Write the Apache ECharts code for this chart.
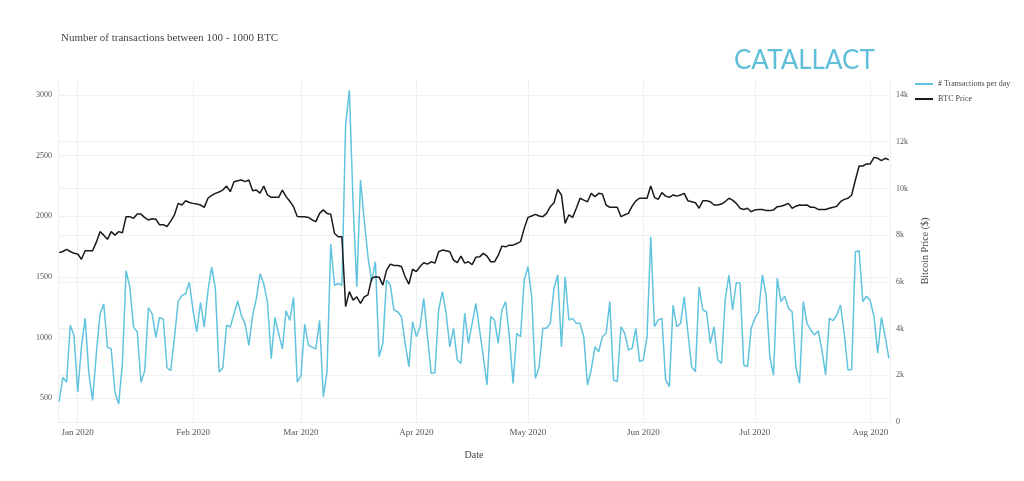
<!DOCTYPE html>
<html>
<head>
<meta charset="utf-8">
<script src="https://cdn.jsdelivr.net/npm/echarts@6/dist/echarts.min.js"></script>
<style>
  html, body { margin: 0; padding: 0; background: #fff; }
  #chart { width: 1024px; height: 481px; }
</style>
</head>
<body>
<div id="chart"></div>
<script>
// 第一天的日期，之后每天一个点
const startDate = '2019-12-27';

// 每日交易数 (100 - 1000 BTC)
const transactions = [
  470, 670, 630, 1100, 1015, 550, 920, 1160, 700, 480,
  865, 1195, 1275, 920, 905, 550, 450, 780, 1550, 1415,
  1085, 1045, 630, 725, 1245, 1195, 1000, 1165, 1150, 750,
  725, 1000, 1300, 1345, 1360, 1455, 1220, 1045, 1290, 1085,
  1385, 1580, 1400, 715, 750, 1100, 1085, 1195, 1300, 1180,
  1110, 935, 1180, 1320, 1525, 1440, 1290, 825, 1165, 1030,
  905, 1220, 1140, 1330, 630, 685, 1110, 935, 920, 905,
  1140, 510, 715, 1770, 1430, 1445, 1430,
  2752, 3041, 2106, 1418, 2299, 1969, 1666, 1460, 1625, 841,
  951, 1474, 1432, 1226, 1212, 1171, 951, 758, 1130, 1006,
  1088, 1322, 1006, 704, 708, 1226, 1377, 1199, 923, 1075,
  814, 786, 1199, 951, 1116, 1281, 1061, 841, 607, 1171,
  1144, 951, 1226, 1295, 1006, 621, 1034, 1006, 1474, 1583,
  1336, 663, 758, 1075, 1075, 1116, 1405, 1515, 923, 1501,
  1144, 1157, 1116,
  1116, 1006, 607, 731, 923, 882, 1006, 1034, 1295, 649,
  635, 1088, 1034, 896, 910, 1075, 800, 814, 1006, 1830,
  1088, 1144, 1157, 649, 594, 1267, 1088, 1116, 1336, 1034,
  758, 717, 1418, 1226, 1212, 951, 1088, 814, 786, 1309,
  1515, 1226, 1453, 1446, 772, 758, 1075, 1157, 1212, 1515,
  1350, 841, 690, 1487, 1295, 1340, 1240, 1212, 758, 621,
  1295, 1116, 1061, 1020, 1055, 896, 690, 1157, 1138, 1185,
  1267, 1034, 731, 736, 1707, 1715, 1295, 1340, 1302, 1171,
  869, 1165, 1006, 827
];

// BTC 价格 (美元)
const btcPrice = [
  7250, 7300, 7390, 7300, 7220, 7190, 6970, 7330, 7330, 7330,
  7700, 8150, 8000, 7820, 8150, 8000, 8150, 8100, 8790, 8790,
  8720, 8900, 8900, 8750, 8650, 8700, 8680, 8440, 8450, 8370,
  8600, 8870, 9360, 9290, 9470, 9400, 9360, 9330, 9290, 9190,
  9580, 9700, 9790, 9850, 9930, 10100, 9860, 10290, 10330, 10360,
  10290, 10360, 9900, 9930, 9800, 10100, 9720, 9620, 9620, 9620,
  9930, 9650, 9450, 9220, 8800, 8790, 8790, 8760, 8650, 8580,
  8930, 9080, 8930, 8900, 8080, 7930, 7930,
  4940, 5580, 5220, 5360, 5080, 5360, 5440, 6150, 6220, 6200,
  5860, 6500, 6760, 6700, 6700, 6660, 6220, 5900, 6540, 6440,
  6660, 6820, 6760, 6860, 6800, 7290, 7360, 7330, 7290, 6930,
  6820, 7100, 6800, 6860, 6740, 7050, 7070, 7220, 7100, 6860,
  6860, 7130, 7530, 7500, 7570, 7570, 7640, 7720, 8290, 8760,
  8820, 8890, 8820, 8790, 8930, 9220, 9390, 9960, 9720, 8500,
  8870, 8760, 9150,
  9580, 9500, 9430, 9790, 9650, 9790, 9760, 9290, 9190, 9190,
  9190, 8790, 8870, 8930, 9240, 9470, 9580, 9580, 9580, 10100,
  9620, 9530, 9820, 9670, 9620, 9720, 9670, 9720, 9790, 9470,
  9430, 9390, 9150, 9470, 9470, 9430, 9290, 9290, 9330, 9430,
  9580, 9500, 9360, 9150, 9100, 9150, 9000, 9080, 9100, 9100,
  9050, 9050, 9080, 9220, 9240, 9290, 9360, 9150, 9240, 9290,
  9280, 9290, 9190, 9190, 9100, 9100, 9100, 9150, 9190, 9240,
  9430, 9530, 9580, 9720, 10360, 10960, 10960, 11050, 11050, 11330,
  11290, 11190, 11290, 11220
];

const leftTicks = [500, 1000, 1500, 2000, 2500, 3000];
const rightTicks = [0, 2000, 4000, 6000, 8000, 10000, 12000, 14000];

const DAY = 24 * 3600 * 1000;
const t0 = new Date(startDate + 'T00:00:00').getTime();
const toPairs = (arr) => arr.map((v, i) => [t0 + i * DAY, v]);

const serif = '"Liberation Serif", "DejaVu Serif", serif';
const MONTHS = ['Jan', 'Feb', 'Mar', 'Apr', 'May', 'Jun', 'Jul', 'Aug', 'Sep', 'Oct', 'Nov', 'Dec'];

const chart = echarts.init(document.getElementById('chart'));

chart.setOption({
  animation: false,
  backgroundColor: '#fff',
  title: {
    text: 'Number of transactions between 100 - 1000 BTC',
    left: 56,
    top: 28,
    textStyle: { fontFamily: serif, fontSize: 11, fontWeight: 'normal', color: '#444' },
  },
  graphic: [
    {
      type: 'text',
      left: 734,
      top: 48,
      style: {
        text: 'CATALLACT',
        font: '400 26px Lato, "Open Sans", sans-serif',
        fill: '#5fbfd9',
      },
    },
  ],
  legend: {
    orient: 'vertical',
    left: 910,
    top: 75,
    itemWidth: 18,
    itemHeight: 2,
    itemGap: 7,
    icon: 'rect',
    textStyle: { fontFamily: serif, fontSize: 8, color: '#444' },
    data: ['# Transactions per day', 'BTC Price'],
  },
  grid: { left: 58, right: 134, top: 80, bottom: 59 },
  xAxis: {
    type: 'time',
    min: t0 - DAY * 0.3,
    max: t0 + (transactions.length - 1) * DAY + DAY * 0.3,
    minInterval: 28 * DAY,
    maxInterval: 31 * DAY,
    name: 'Date',
    nameLocation: 'middle',
    nameGap: 28,
    nameTextStyle: { fontFamily: serif, fontSize: 10, color: '#444' },
    axisLine: { show: false },
    axisTick: { show: false },
    axisLabel: {
      fontFamily: serif, fontSize: 9, color: '#555', margin: 6,
      formatter: (v) => { const d = new Date(v); return MONTHS[d.getMonth()] + ' ' + d.getFullYear(); },
    },
    splitLine: { show: true, lineStyle: { color: '#eef0f3' } },
  },
  yAxis: [
    {
      type: 'value',
      min: 302,
      max: 3124,
      axisLine: { show: false },
      axisTick: { show: false, customValues: leftTicks },
      axisLabel: {
        customValues: leftTicks, fontFamily: serif, fontSize: 8, color: '#555', margin: 6,
        formatter: (v) => String(v),
      },
      splitLine: { show: true, lineStyle: { color: '#eef0f3' } },
    },
    {
      type: 'value',
      min: 0,
      max: 14642,
      name: 'Bitcoin Price ($)',
      nameLocation: 'middle',
      nameGap: 30,
      nameTextStyle: { fontFamily: serif, fontSize: 10, color: '#444' },
      axisLine: { show: false },
      axisTick: { show: false, customValues: rightTicks },
      axisLabel: {
        customValues: rightTicks, fontFamily: serif, fontSize: 8, color: '#555', margin: 6,
        formatter: (v) => (v === 0 ? '0' : v / 1000 + 'k'),
      },
      splitLine: { show: true, lineStyle: { color: '#eef0f3' } },
    },
  ],
  series: [
    {
      name: '# Transactions per day',
      type: 'line',
      yAxisIndex: 0,
      data: toPairs(transactions),
      showSymbol: false,
      lineStyle: { color: '#62c3de', width: 1.5 },
      itemStyle: { color: '#62c3de' },
    },
    {
      name: 'BTC Price',
      type: 'line',
      yAxisIndex: 1,
      data: toPairs(btcPrice),
      showSymbol: false,
      lineStyle: { color: '#1a1a1a', width: 1.5 },
      itemStyle: { color: '#1a1a1a' },
    },
  ],
});
</script>
</body>
</html>
